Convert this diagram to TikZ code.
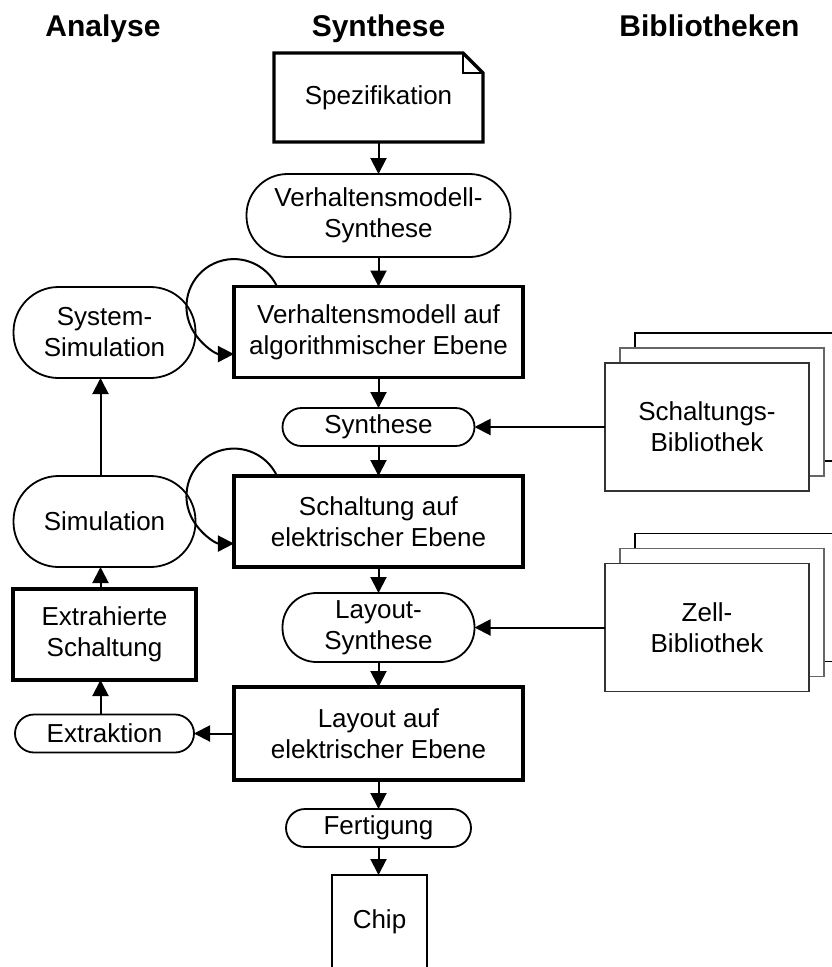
\documentclass[tikz,border=0pt]{standalone}
\usepackage{fontspec}
\setmainfont{Liberation Sans}
\usetikzlibrary{arrows.meta}

\begin{document}
\begin{tikzpicture}[x=1pt,y=-1pt,
  every node/.style={font=\fontsize{26}{31}\selectfont, align=center,
    inner sep=0pt, outer sep=0pt},
  header/.style={font=\fontsize{30}{36}\selectfont\bfseries, anchor=base},
  thinline/.style={line width=1.8pt},
  thickbox/.style={draw, line width=3.4pt, minimum width=289pt, minimum height=91pt},
  stadium/.style={draw, line width=1.8pt, rounded corners=#1},
  libbox/.style={draw, fill=white, line width=1.6pt, minimum width=204pt, minimum height=128pt},
  arr/.style={line width=2pt, -{Triangle[length=16pt,width=16pt]}},
]
\path[use as bounding box, clip] (0,0) rectangle (832,967);

% column headings
\node[header] (hA) at (103,36) {Analyse};
\node[header] (hS) at (378.5,36) {Synthese};
\node[header] (hB) at (709.5,36) {Bibliotheken};

% synthesis column
\node[minimum width=209pt, minimum height=89pt] (spec) at (378.5,97.5) {Spezifikation};
\draw[line width=3.4pt] (spec.north west) -- ([xshift=-20pt]spec.north east)
  -- ([yshift=-20pt]spec.north east) -- (spec.south east) -- (spec.south west) -- cycle;
\draw[thinline] ([xshift=-20pt]spec.north east) |- ([yshift=-20pt]spec.north east);

\node[stadium=41pt, minimum width=264pt, minimum height=83pt] (vms) at (378.5,215.5)
  {Verhaltensmodell-\\Synthese};
\node[thickbox] (vm) at (378.5,332) {Verhaltensmodell auf\\algorithmischer Ebene};
\node[stadium=19pt, minimum width=192pt, minimum height=38pt] (syn) at (378.5,427) {Synthese};
\node[thickbox] (sch) at (378.5,521.5) {Schaltung auf\\elektrischer Ebene};
\node[stadium=34pt, minimum width=192pt, minimum height=69pt] (lsyn) at (378.5,627.5)
  {Layout-\\Synthese};
\node[thickbox, minimum height=93pt] (lay) at (378.5,733.5) {Layout auf\\elektrischer Ebene};
\node[stadium=19pt, minimum width=185pt, minimum height=38pt] (fert) at (378.5,828) {Fertigung};
\node[draw, thinline, minimum width=95pt, minimum height=94pt] (chip) at (379.5,922) {Chip};

% analysis column
\node[stadium=45pt, minimum width=182pt, minimum height=91pt] (syssim) at (104.5,332.5)
  {System-\\Simulation};
\node[stadium=45pt, minimum width=182pt, minimum height=91pt] (sim) at (104.5,521.5) {Simulation};
\node[thickbox, minimum width=183pt, minimum height=91pt] (extr) at (104.5,634.5)
  {Extrahierte\\Schaltung};
\node[stadium=19pt, minimum width=179pt, minimum height=38pt] (ext) at (104.5,733.5) {Extraktion};

% libraries: stacked sheets
\node[libbox, draw=black] (lib1c) at (737,397) {};
\node[libbox, draw=black!60] (lib1b) at (722,412) {};
\node[libbox, draw=black!80] (lib1) at (707,427) {Schaltungs-\\Bibliothek};
\node[libbox, draw=black] (lib2c) at (737,597.5) {};
\node[libbox, draw=black!60] (lib2b) at (722,612.5) {};
\node[libbox, draw=black!80] (lib2) at (707,627.5) {Zell-\\Bibliothek};

% flow
\draw[arr] (spec.south) -- (vms.north);
\draw[arr] (vms) -- (vm);
\draw[arr] (vm) -- (syn);
\draw[arr] (syn) -- (sch);
\draw[arr] (sch) -- (lsyn);
\draw[arr] (lsyn) -- (lay);
\draw[arr] (lay) -- (fert);
\draw[arr] (fert.south) -- (fert.south |- chip.north);

\draw[arr] (lib1) -- (syn);
\draw[arr] (lib2) -- (lsyn);

\draw[arr] (lay.west) -- (ext.east);
\draw[arr] ([xshift=-4pt]ext.north) -- ([xshift=-4pt]extr.south);
\draw[arr] ([xshift=-4pt]extr.north) -- ([xshift=-4pt]sim.south);
\draw[arr] ([xshift=-4pt]sim.north) -- ([xshift=-4pt]syssim.south);

% iteration loops
\draw[arr] ([xshift=43pt]vm.north west) arc[start angle=25, end angle=270, radius=47.5pt];
\draw[arr] ([xshift=43pt]sch.north west) arc[start angle=25, end angle=270, radius=47.5pt];
\end{tikzpicture}
\end{document}
